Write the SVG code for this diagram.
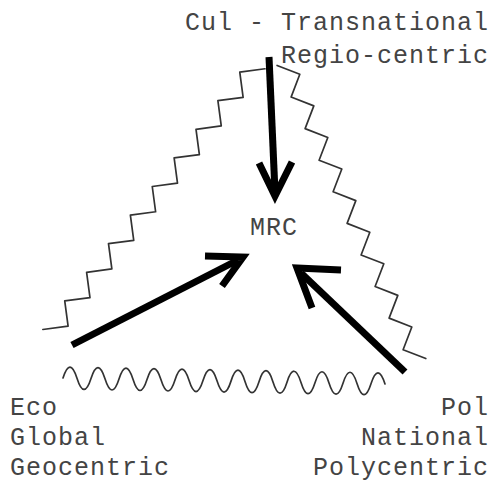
<svg xmlns="http://www.w3.org/2000/svg" width="494" height="485" viewBox="0 0 494 485">
<style>
.lbl{font-family:"Liberation Mono","DejaVu Sans Mono",monospace;font-size:25px;letter-spacing:1px;fill:#444}
.end{text-anchor:end}
.wave{fill:none;stroke:#333;stroke-width:1.7;stroke-linejoin:round;stroke-linecap:round}
.arr{fill:none;stroke:#000;stroke-width:7;stroke-linejoin:miter}
</style>
<rect width="494" height="485" fill="#fff"/>
<g id="boundary">
<path class="wave" d="M42.85,329.5 l25.24,-3.36 l-3.36,-25.24 l25.24,-3.36 l-3.36,-25.24 l25.24,-3.36 l-3.36,-25.24 l25.24,-3.36 l-3.36,-25.24 l25.24,-3.36 l-3.36,-25.24 l25.24,-3.36 l-3.36,-25.24 l25.24,-3.36 l-3.36,-25.24 l25.24,-3.36 l-3.36,-25.24 l25.24,-3.36 l-3.36,-25.24 l25.24,-3.36"/>
<path class="wave" d="M277.1,65.5 l22.72,8.82 l-8.72,22.76 l22.72,8.82 l-8.72,22.76 l22.72,8.82 l-8.72,22.76 l22.72,8.82 l-8.72,22.76 l22.72,8.82 l-8.72,22.76 l22.72,8.82 l-8.72,22.76 l22.72,8.82 l-8.72,22.76 l22.72,8.82 l-8.72,22.76 l22.72,8.82 l-8.72,22.76 l22.72,8.82"/>
<path class="wave" d="M63,378 q7,-22 14,0.26 t14,0.26 t14,0.26 t14,0.26 t14,0.26 t14,0.26 t14,0.26 t14,0.26 t14,0.26 t14,0.26 t14,0.26 t14,0.26 t14,0.26 t14,0.26 t14,0.26 t14,0.26 t14,0.26 t14,0.26 t14,0.26 t14,0.26 t14,0.26 t14,0.26 t14,0.26"/>
</g>
<g id="connectors">
<g id="arrow-cul">
<line class="arr" x1="269" y1="57" x2="275" y2="192"/>
<polyline class="arr" points="259,163 275,196 292,162"/>
</g>
<g id="arrow-eco">
<line class="arr" x1="72" y1="345" x2="238" y2="260"/>
<polyline class="arr" points="205,256 243,257 222,286"/>
</g>
<g id="arrow-pol">
<line class="arr" x1="405" y1="372" x2="301" y2="273"/>
<polyline class="arr" points="341,270 297,268 312,308"/>
</g>
</g>
<g id="node-cul">
<text class="lbl end" x="489" y="30">Cul - Transnational</text>
<text class="lbl end" x="489" y="63">Regio-centric</text>
</g>
<g id="node-mrc">
<text class="lbl" x="250" y="235">MRC</text>
</g>
<g id="node-eco">
<text class="lbl" x="10" y="415">Eco</text>
<text class="lbl" x="10" y="445">Global</text>
<text class="lbl" x="10" y="475">Geocentric</text>
</g>
<g id="node-pol">
<text class="lbl end" x="489" y="415">Pol</text>
<text class="lbl end" x="489" y="445">National</text>
<text class="lbl end" x="489" y="475">Polycentric</text>
</g>
</svg>
